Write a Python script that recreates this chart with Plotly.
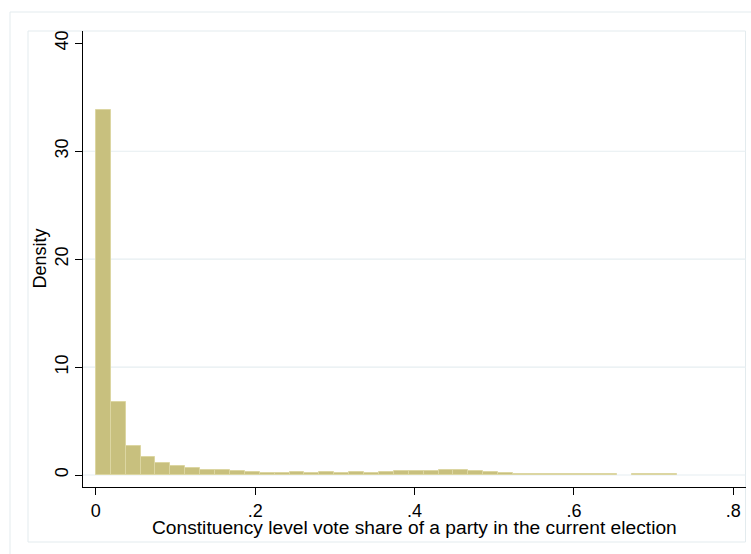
import numpy as np
import plotly.graph_objects as go

# Histogram of constituency-level vote shares (39 equal-width bins starting at 0)
bin_start = 0.0
bin_width = 0.0187
density = [
    33.8, 6.73, 2.69, 1.64, 1.14, 0.81, 0.65, 0.47, 0.50, 0.33,
    0.32, 0.22, 0.22, 0.30, 0.22, 0.27, 0.22, 0.32, 0.22, 0.32,
    0.33, 0.36, 0.37, 0.44, 0.45, 0.37, 0.24, 0.17, 0.12, 0.11,
    0.10, 0.10, 0.09, 0.09, 0.08, 0.0, 0.09, 0.09, 0.09,
]

x_ticks = [0, 0.2, 0.4, 0.6, 0.8]
x_tick_text = ["0", ".2", ".4", ".6", ".8"]
y_ticks = [0, 10, 20, 30, 40]
y_tick_text = ["0", "10", "20", "30", "40"]
grid_vals = [0, 10, 20, 30]

x_title = "Constituency level vote share of a party in the current election"
y_title = "Density"

FONT = "Liberation Sans, Arial, Helvetica, sans-serif"
W, H = 751, 554
L, R, T, B = 83, 5, 31, 67
PW, PH = W - L - R, H - T - B

centers = bin_start + bin_width * (np.arange(len(density)) + 0.5)
mask = np.array(density) > 0

fig = go.Figure()
fig.add_trace(go.Bar(
    x=centers[mask],
    y=np.array(density)[mask],
    width=bin_width,
    marker=dict(color="#c8c07e", line=dict(color="#dcd6a2", width=1)),
    hoverinfo="x+y",
))


def px_x(p):
    return (p - L) / PW


def px_y(p):
    return (H - B - p) / PH


shapes = []
# outer and inner graph-region frames
shapes.append(dict(type="rect", xref="paper", yref="paper",
                   x0=px_x(10), x1=px_x(770), y0=px_y(12), y1=px_y(570),
                   line=dict(color="#e3ebee", width=1), layer="below"))
shapes.append(dict(type="rect", xref="paper", yref="paper",
                   x0=px_x(28), x1=px_x(745.5), y0=px_y(31), y1=px_y(542),
                   line=dict(color="#e3ebee", width=1), layer="below"))
for g in grid_vals:
    shapes.append(dict(type="line", xref="paper", yref="y",
                       x0=0, x1=1, y0=g, y1=g,
                       line=dict(color="#e6eef1", width=1.2), layer="below"))

fig.update_layout(
    width=W, height=H,
    margin=dict(l=L, r=R, t=T, b=B, pad=0),
    paper_bgcolor="white", plot_bgcolor="white",
    showlegend=False,
    bargap=0,
    font=dict(family=FONT, size=18, color="black"),
    shapes=shapes,
    annotations=[
        dict(text=x_title, xref="paper", yref="paper",
             x=0.5, y=px_y(527.5), xanchor="center", yanchor="middle",
             showarrow=False, font=dict(size=19.2, family=FONT, color="black")),
        dict(text=y_title, xref="paper", yref="paper",
             x=px_x(39.5), y=0.5, xanchor="center", yanchor="middle",
             textangle=-90, showarrow=False,
             font=dict(size=18, family=FONT, color="black")),
    ],
)

fig.update_xaxes(
    range=[-0.01613, 0.81595],
    tickmode="array", tickvals=x_ticks, ticktext=x_tick_text,
    ticks="outside", ticklen=7, tickwidth=1, tickcolor="black",
    showline=True, linecolor="black", linewidth=1,
    showgrid=False, zeroline=False,
    tickfont=dict(size=18, family=FONT, color="black"),
)
fig.update_yaxes(
    range=[-1.112, 41.14],
    tickmode="array", tickvals=y_ticks, ticktext=y_tick_text,
    ticks="outside", ticklen=7, tickwidth=1, tickcolor="black",
    tickangle=-90,
    showline=True, linecolor="black", linewidth=1,
    showgrid=False, zeroline=False,
    tickfont=dict(size=18, family=FONT, color="black"),
)

fig.write_html("out.html")
